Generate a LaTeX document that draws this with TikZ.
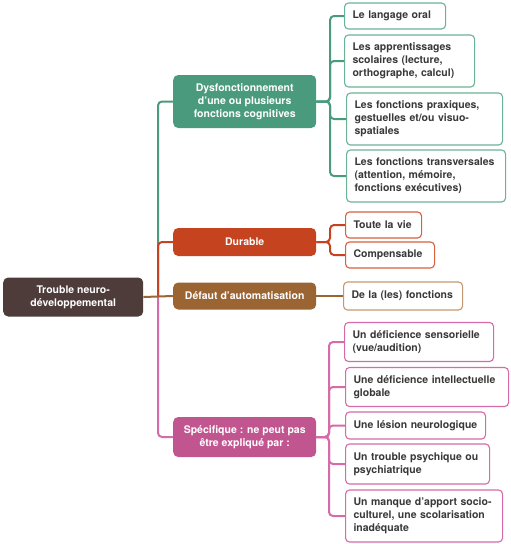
\documentclass[tikz,border=0pt]{standalone}
\usepackage{fontspec}
\setmainfont{TeX Gyre Heros}
\usepackage{tikz}
\usetikzlibrary{positioning}
\usepackage{xcolor}

\definecolor{rootc}{HTML}{4E3C3A}
\definecolor{greenc}{HTML}{4A9B7E}
\definecolor{greenl}{HTML}{6BB397}
\definecolor{redc}{HTML}{C6431F}
\definecolor{redl}{HTML}{D9603F}
\definecolor{brownc}{HTML}{9B6433}
\definecolor{brownl}{HTML}{C49A72}
\definecolor{pinkc}{HTML}{C1558F}
\definecolor{pinkl}{HTML}{D56BA8}
\definecolor{leaftext}{HTML}{383838}

\tikzset{
    txt/.style={font=\fontsize{10.5}{13}\selectfont\bfseries},
    mainbox/.style={txt, rounded corners=5pt, text=white, align=center,
        minimum width=143pt, anchor=west, inner sep=2pt},
    leaf/.style={txt, draw, fill=white, rounded corners=4pt, line width=1.1pt,
        text=leaftext, align=left, text width=#1, inner xsep=8pt, inner ysep=2pt,
        anchor=west},
    link/.style={line width=2pt, rounded corners=4pt}
}

\begin{document}
\begin{tikzpicture}[x=1pt, y=-1pt]
    \useasboundingbox (0,0) rectangle (511,544);

    % Root and main branches
    \node[mainbox, fill=rootc, minimum width=140pt, minimum height=39pt] (root) at (3,297)
        {Trouble neuro-\\développemental};
    \node[mainbox, fill=greenc, minimum height=53pt] (dys) at (173,101.5)
        {Dysfonctionnement\\d’une ou plusieurs\\fonctions cognitives};
    \node[mainbox, fill=redc, minimum height=28pt] (dur) at (173,242) {Durable};
    \node[mainbox, fill=brownc, minimum height=27pt] (def) at (173,296) {Défaut d’automatisation};
    \node[mainbox, fill=pinkc, minimum height=40pt] (spe) at (173,437)
        {Spécifique : ne peut pas\\être expliqué par :};

    % Leaves: cognitive functions
    \node[leaf=85pt, draw=greenl, minimum height=26pt] (g1) at (344,16) {Le langage oral};
    \node[leaf=114pt, draw=greenl, minimum height=52pt] (g2) at (344,61)
        {Les apprentissages\\scolaires (lecture,\\orthographe, calcul)};
    \node[leaf=140pt, draw=greenl, minimum height=52pt] (g3) at (346,119)
        {Les fonctions praxiques,\\gestuelles et/ou visuo-\\spatiales};
    \node[leaf=143pt, draw=greenl, minimum height=52pt] (g4) at (346,176)
        {Les fonctions transversales\\(attention, mémoire,\\fonctions exécutives)};

    % Leaves: durable
    \node[leaf=60pt, draw=redl, minimum height=26pt] (r1) at (345,225) {Toute la vie};
    \node[leaf=73pt, draw=redl, minimum height=26pt] (r2) at (345,255) {Compensable};

    % Leaf: automatisation
    \node[leaf=103pt, draw=brownl, minimum height=28pt] (b1) at (343,296) {De la (les) fonctions};

    % Leaves: specifique
    \node[leaf=133pt, draw=pinkl, minimum height=39pt] (p1) at (344,342)
        {Un déficience sensorielle\\(vue/audition)};
    \node[leaf=147pt, draw=pinkl, minimum height=39pt] (p2) at (345,387)
        {Une déficience intellectuelle\\globale};
    \node[leaf=124pt, draw=pinkl, minimum height=27pt] (p3) at (345,425.5) {Une lésion neurologique};
    \node[leaf=128pt, draw=pinkl, minimum height=40pt] (p4) at (345,464)
        {Un trouble psychique ou\\psychiatrique};
    \node[leaf=141pt, draw=pinkl, minimum height=52pt] (p5) at (345,516)
        {Un manque d’apport socio-\\culturel, une scolarisation\\inadéquate};

    % Fork points
    \coordinate (trunk) at (158,297);
    \coordinate (gfork) at (330,101.5);
    \coordinate (rfork) at (330,242);
    \coordinate (pfork) at (329,437);

    % Connectors from the root
    \draw[link, greenc] (trunk) |- (dys.west);
    \draw[link, redc] (trunk) |- (dur.west);
    \draw[link, pinkl] (trunk) |- (spe.west);
    \draw[link, brownc] (root.east) -- (def.west);

    % Connectors to the leaves
    \foreach \n in {g1,g2,g3,g4}
        \draw[link, greenc] (dys.east) -- (gfork) |- (\n.west);
    \foreach \n in {r1,r2}
        \draw[link, redc] (dur.east) -- (rfork) |- (\n.west);
    \draw[link, brownc] (def.east) -- (b1.west);
    \foreach \n in {p1,p2,p3,p4,p5}
        \draw[link, pinkl] (spe.east) -- (pfork) |- (\n.west);
\end{tikzpicture}
\end{document}
